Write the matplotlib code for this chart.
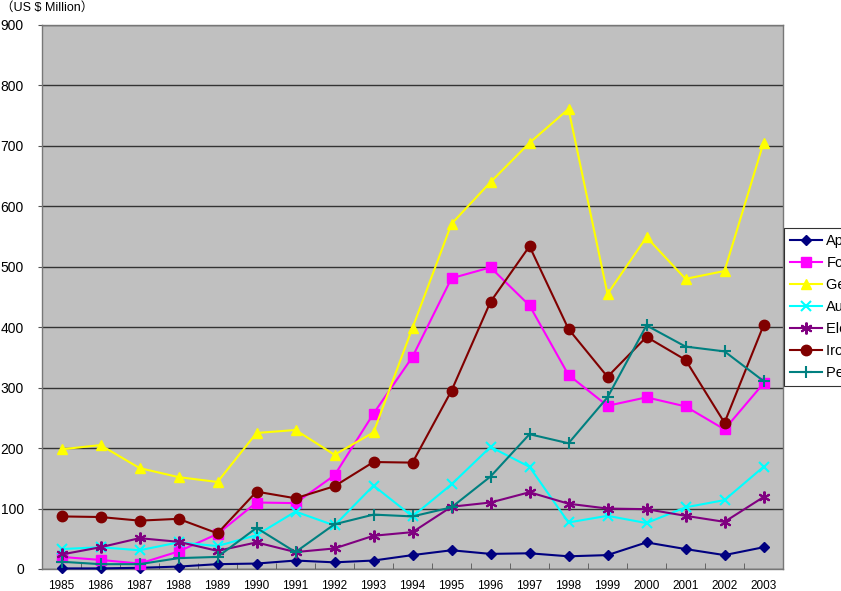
import matplotlib
matplotlib.use("Agg")
import matplotlib.pyplot as plt
import numpy as np

plt.rcParams['font.family'] = ['Liberation Sans', 'Noto Sans CJK JP', 'DejaVu Sans']

years = [str(y) for y in range(1985, 2004)]
apparel = [1, 1, 2, 4, 8, 9, 14, 11, 14, 23, 31, 25, 26, 21, 23, 44, 33, 23, 36]
footwear = [20, 15, 9, 29, 58, 110, 109, 155, 257, 351, 481, 499, 436, 321, 270, 284, 269, 231, 307]
gems = [198, 205, 167, 152, 144, 225, 230, 189, 226, 399, 571, 640, 705, 761, 455, 549, 480, 493, 705]
autos = [33, 36, 31, 44, 38, 56, 95, 72, 138, 87, 140, 202, 169, 77, 88, 76, 102, 114, 169]
electrical = [24, 36, 51, 45, 30, 44, 28, 34, 55, 61, 103, 110, 127, 108, 100, 99, 88, 78, 119]
iron = [87, 86, 80, 83, 59, 128, 117, 137, 177, 176, 295, 442, 534, 397, 318, 384, 346, 242, 403]
petro = [12, 8, 8, 18, 20, 68, 28, 74, 90, 87, 102, 153, 223, 208, 284, 403, 368, 360, 311]

labels = ["Apparel", "Footwear", "Gems & jewelry", "Automobiles",
          "Electrical machinery", "Iron & steel", "Petroleum products"]
yticks = list(range(0, 1000, 100))

fig = plt.figure(figsize=(8.41, 5.91), dpi=100)
ax = fig.add_axes([42/841, 1-569/591, (783-42)/841, (569-25)/591])
ax.set_facecolor('#C0C0C0')

x = np.arange(len(years))
series = [
    (apparel, '#000080', 'D', 5),
    (footwear, '#FF00FF', 's', 6.5),
    (gems, '#FFFF00', '^', 7.5),
    (autos, '#00FFFF', 'x', 7),
    (electrical, '#800080', (6, 2, 0), 8.5),
    (iron, '#800000', 'o', 7.5),
    (petro, '#008080', '+', 8.5),
]
for (vals, col, mk, ms), lab in zip(series, labels):
    lw_m = 1.5 if mk in ('x', '+', (6, 2, 0)) else 1
    ax.plot(x, vals, color=col, marker=mk, markersize=ms, lw=1.5,
            markeredgewidth=lw_m, label=lab, clip_on=False, zorder=3)

ax.set_xlim(-0.5, len(years) - 0.5)
ax.set_ylim(0, 900)
ax.set_yticks(yticks)
ax.set_yticklabels([str(v) for v in yticks], fontsize=10)
ax.set_xticks(x)
ax.set_xticklabels(years, fontsize=8.5)
ax.set_xticks(np.arange(-0.5, len(years), 1), minor=True)
ax.tick_params(axis='x', which='major', length=0, pad=8)
ax.tick_params(axis='x', which='minor', length=4, color='#555555', direction='in')
ax.tick_params(axis='y', length=3, color='#555555', pad=10)
ax.grid(axis='y', color='#333333', lw=1, zorder=1)
ax.set_axisbelow(True)
for s in ax.spines.values():
    s.set_color('#777777')
    s.set_linewidth(1)

fig.text(1/841, 1-8/591, '（US $ Million）', fontsize=9, ha='left', va='center')

leg = ax.legend(loc='upper left', bbox_to_anchor=(784/841, 1-228/591),
                bbox_transform=fig.transFigure, fontsize=10.5, frameon=True,
                fancybox=False, edgecolor='black', facecolor='white',
                handlelength=2.2, labelspacing=0.55, borderpad=0.4,
                handletextpad=0.3, borderaxespad=0)
leg.get_frame().set_linewidth(0.8)

fig.savefig('out.png', dpi=100)
